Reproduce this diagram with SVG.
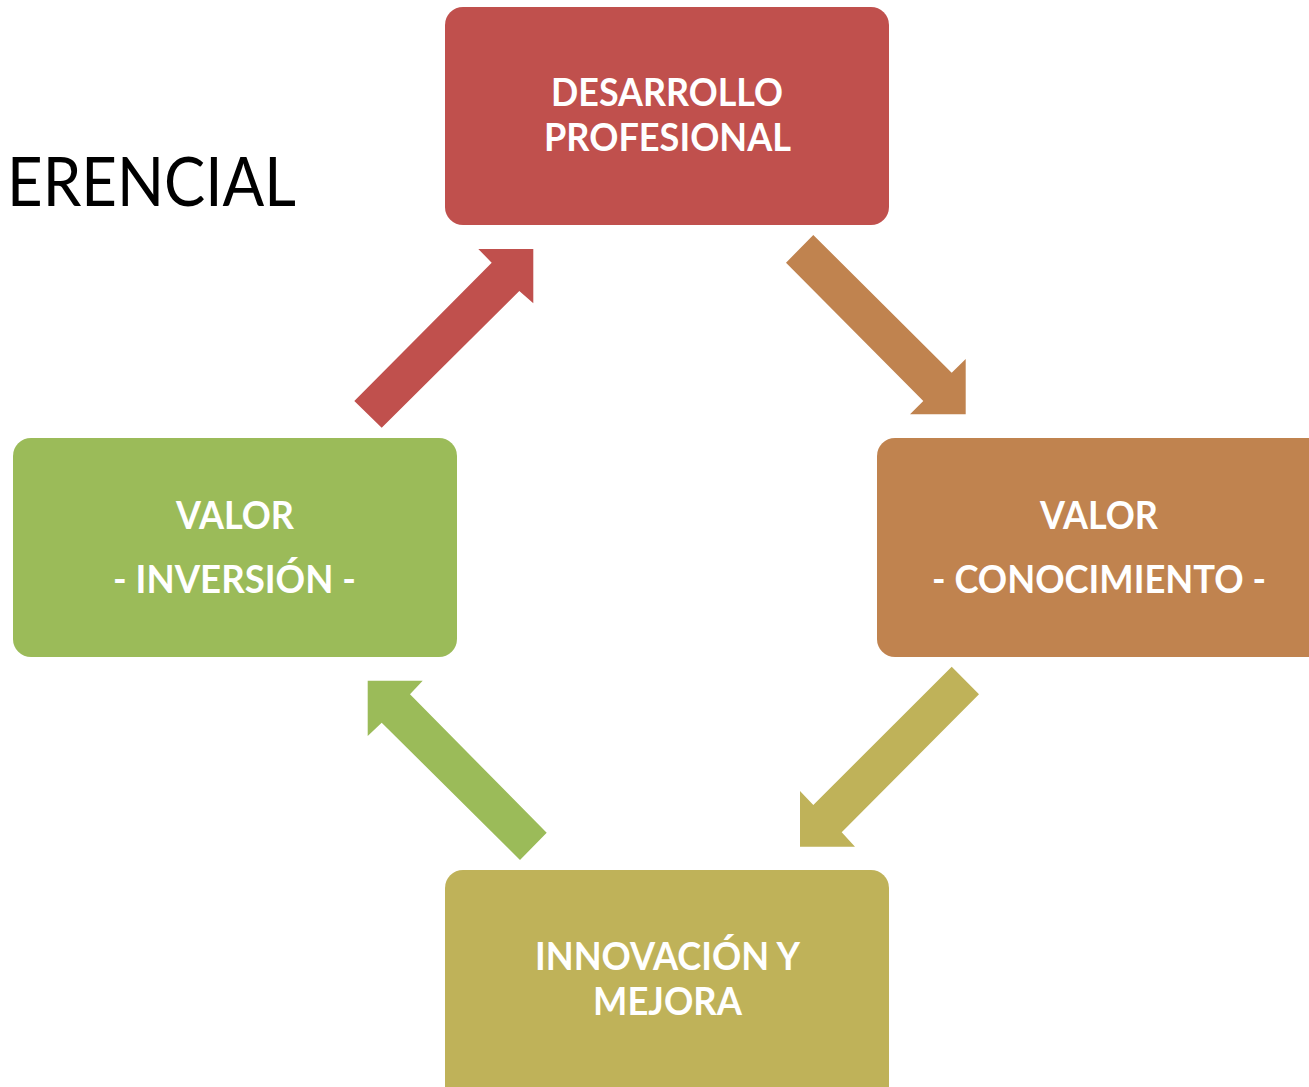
<svg xmlns="http://www.w3.org/2000/svg" width="1309" height="1087" viewBox="0 0 1309 1087">
<style>
.lbl{font-family:Lato,"Open Sans","Liberation Sans",sans-serif;font-weight:bold;font-size:38px;fill:#FFFFFF;text-anchor:middle}
.title{font-family:Lato,"Open Sans","Liberation Sans",sans-serif;font-size:68px;fill:#000000}
</style>
<rect width="1309" height="1087" fill="#FFFFFF"/>
<text class="title" x="7" y="206" textLength="289" lengthAdjust="spacingAndGlyphs">ERENCIAL</text>
<g id="connectors">
<polygon fill="#C0504D" points="354.3,401 491.7,262.7 478.3,249 533.3,249 533.3,303.3 519.3,291 381.7,427.7"/>
<polygon fill="#C0834F" points="813.3,235 951.7,372.7 965.7,359 965.7,414.3 910,414.3 923.3,401 786,262.7"/>
<polygon fill="#BFB259" points="979,694.3 841.7,832.3 855,846.7 800,846.7 800,791 813.3,805 951.7,666.7"/>
<polygon fill="#9BBB59" points="367.7,680.7 422.7,680.7 410,694.3 546.7,832.7 520,860 381.7,722.7 367.7,736"/>
</g>
<g id="node-desarrollo">
<rect x="445" y="7" width="444" height="218" rx="18" fill="#C0504D"/>
<text class="lbl" x="667" y="106" textLength="232" lengthAdjust="spacingAndGlyphs">DESARROLLO</text>
<text class="lbl" x="667.5" y="151" textLength="247" lengthAdjust="spacingAndGlyphs">PROFESIONAL</text>
</g>
<g id="node-conocimiento">
<rect x="877" y="438" width="452" height="219" rx="18" fill="#C0834F"/>
<text class="lbl" x="1099" y="529" textLength="118" lengthAdjust="spacingAndGlyphs">VALOR</text>
<text class="lbl" x="1099" y="593" textLength="334" lengthAdjust="spacingAndGlyphs">- CONOCIMIENTO -</text>
</g>
<g id="node-innovacion">
<rect x="445" y="870" width="444" height="240" rx="18" fill="#BFB259"/>
<text class="lbl" x="667.5" y="970" textLength="265" lengthAdjust="spacingAndGlyphs">INNOVACIÓN Y</text>
<text class="lbl" x="667.5" y="1015" textLength="149" lengthAdjust="spacingAndGlyphs">MEJORA</text>
</g>
<g id="node-inversion">
<rect x="13" y="438" width="444" height="219" rx="18" fill="#9BBB59"/>
<text class="lbl" x="235" y="529" textLength="118" lengthAdjust="spacingAndGlyphs">VALOR</text>
<text class="lbl" x="234.5" y="593" textLength="243" lengthAdjust="spacingAndGlyphs">- INVERSIÓN -</text>
</g>
</svg>
